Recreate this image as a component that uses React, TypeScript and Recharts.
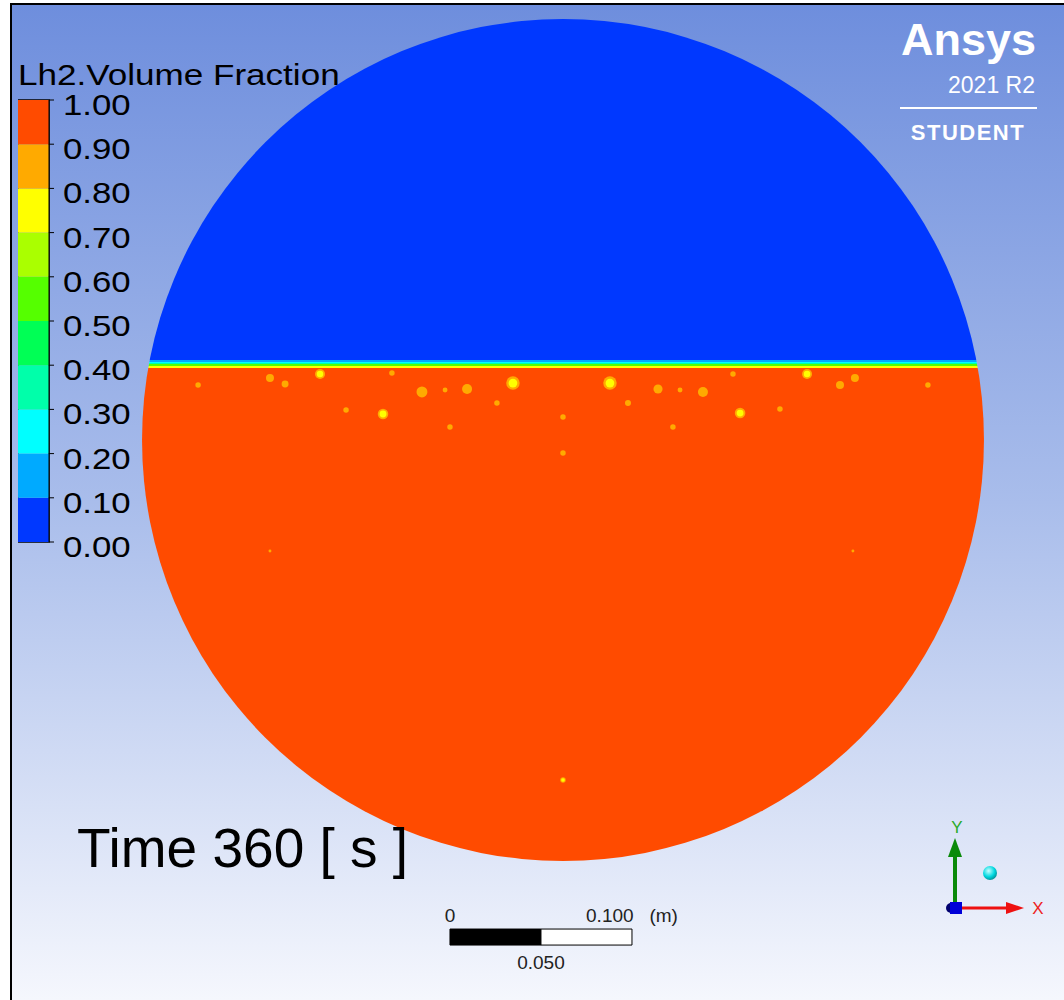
import React from 'react';
import { ComposedChart, Scatter, XAxis, YAxis, ReferenceArea, BarChart, Bar } from 'recharts';

// contour levels of the volume fraction and the colour of each band
const LEVELS = [0, 0.1, 0.2, 0.3, 0.4, 0.5, 0.6, 0.7, 0.8, 0.9, 1.0];
const BAND_COLORS = ['#0038FF', '#00AAFF', '#00FFFF', '#00FFAA', '#00FF55', '#55FF00', '#AAFF00', '#FFFF00', '#FFAA00', '#FF4B00'];

// tank cross-section, metres
const TANK_CENTER = [{ x: 0, y: 0 }];
const TANK_RADIUS = 0.2313;

// mixed layer between vapour and liquid: top of each band (m) and its fraction
const INTERFACE_LAYERS = [
    { top: 0.0440, frac: 0.15 },
    { top: 0.0431, frac: 0.25 },
    { top: 0.0421, frac: 0.35 },
    { top: 0.0415, frac: 0.55 },
    { top: 0.0404, frac: 0.75 },
];
const LIQUID_LEVEL = 0.0393;

// vapour pockets in the liquid: centre (m), diameter (mm), fraction at the core
const BUBBLES = [
    { x: -0.2005, y: 0.0302, d: 3.0, core: 0.85 },
    { x: -0.1610, y: 0.0341, d: 4.4, core: 0.85 },
    { x: -0.1527, y: 0.0308, d: 3.8, core: 0.85 },
    { x: -0.1335, y: 0.0363, d: 5.5, core: 0.75 },
    { x: -0.1192, y: 0.0165, d: 3.0, core: 0.85 },
    { x: -0.0989, y: 0.0143, d: 5.8, core: 0.75 },
    { x: -0.0940, y: 0.0368, d: 3.0, core: 0.85 },
    { x: -0.0775, y: 0.0264, d: 6.0, core: 0.85 },
    { x: -0.0648, y: 0.0275, d: 2.7, core: 0.85 },
    { x: -0.0527, y: 0.0280, d: 5.5, core: 0.85 },
    { x: -0.0363, y: 0.0203, d: 3.0, core: 0.85 },
    { x: -0.0275, y: 0.0313, d: 7.4, core: 0.75 },
    { x: -0.0621, y: 0.0071, d: 3.0, core: 0.85 },
    { x: 0.0000, y: 0.0126, d: 3.0, core: 0.85 },
    { x: 0.0000, y: -0.0071, d: 3.0, core: 0.85 },
    { x: 0.0258, y: 0.0313, d: 7.4, core: 0.75 },
    { x: 0.0357, y: 0.0203, d: 3.3, core: 0.85 },
    { x: 0.0522, y: 0.0280, d: 5.0, core: 0.85 },
    { x: 0.0643, y: 0.0275, d: 2.7, core: 0.85 },
    { x: 0.0769, y: 0.0264, d: 5.5, core: 0.85 },
    { x: 0.0604, y: 0.0071, d: 3.0, core: 0.85 },
    { x: 0.0973, y: 0.0148, d: 5.8, core: 0.75 },
    { x: 0.1192, y: 0.0170, d: 3.0, core: 0.85 },
    { x: 0.0934, y: 0.0363, d: 3.0, core: 0.85 },
    { x: 0.1341, y: 0.0363, d: 5.5, core: 0.75 },
    { x: 0.1522, y: 0.0302, d: 4.4, core: 0.85 },
    { x: 0.1604, y: 0.0341, d: 4.4, core: 0.85 },
    { x: 0.2005, y: 0.0302, d: 3.0, core: 0.85 },
    { x: 0.0000, y: -0.1868, d: 3.0, core: 0.75 },
    { x: -0.1610, y: -0.0610, d: 1.6, core: 0.85 },
    { x: 0.1593, y: -0.0610, d: 1.6, core: 0.85 },
];

// length scale bar, metres
const SCALE_X0 = -0.0621;
const SCALE_TOP = -0.2687;
const SCALE_BOTTOM = -0.2775;
const SCALE_TICKS = [
    { v: 0, label: '0', below: false },
    { v: 0.05, label: '0.050', below: true },
    { v: 0.1, label: '0.100\u00a0\u00a0\u00a0(m)', below: false },
];

const TIME_LABEL = 'Time 360 [ s ]';
const LEGEND_TITLE = 'Lh2.Volume Fraction';

// view: 1 m = 1820 px, tank centre at (563, 440)
const W = 1064;
const H = 1000;
const PX_PER_M = 1820;
const X_DOMAIN = [-563 / PX_PER_M, (W - 563) / PX_PER_M];
const Y_DOMAIN = [-(H - 440) / PX_PER_M, 440 / PX_PER_M];
const FONT = '"Liberation Sans", Arial, sans-serif';

const bandColor = (f: number) => BAND_COLORS[Math.max(0, Math.min(9, Math.floor(f * 10)))];

const legendRow = LEVELS.slice(1).reduce(
    (row: Record<string, number | string>, v, i) => ({ ...row, [`b${i}`]: v - LEVELS[i] }),
    { name: 'vf' }
);

const TankShape = (props: any) => {
    const { cx, cy } = props;
    const r = TANK_RADIUS * PX_PER_M;
    const py = (m: number) => cy - m * PX_PER_M;
    const vapourBottom = py(INTERFACE_LAYERS[0].top);
    return (
        <g>
            <defs>
                <clipPath id="tank-clip">
                    <circle cx={cx} cy={cy} r={r} />
                </clipPath>
            </defs>
            <g clipPath="url(#tank-clip)" shapeRendering="crispEdges">
                <rect x={cx - r} y={cy - r} width={2 * r} height={vapourBottom - (cy - r)} fill={bandColor(0)} />
                {INTERFACE_LAYERS.map((l, i) => {
                    const bottom = i < INTERFACE_LAYERS.length - 1 ? INTERFACE_LAYERS[i + 1].top : LIQUID_LEVEL;
                    return (
                        <rect key={i} x={cx - r} y={py(l.top)} width={2 * r} height={py(bottom) - py(l.top)} fill={bandColor(l.frac)} />
                    );
                })}
                <rect x={cx - r} y={py(LIQUID_LEVEL)} width={2 * r} height={cy + r - py(LIQUID_LEVEL)} fill={bandColor(0.95)} />
            </g>
        </g>
    );
};

const BubbleShape = (props: any) => {
    const { cx, cy, payload } = props;
    const r = ((payload.d / 1000) * PX_PER_M) / 2;
    return (
        <g>
            <circle cx={cx} cy={cy} r={r} fill={bandColor(0.85)} />
            {payload.core < 0.8 && <circle cx={cx} cy={cy} r={r * 0.65} fill={bandColor(payload.core)} />}
        </g>
    );
};

const ScaleLabel = (props: any) => {
    const { cx, cy, payload } = props;
    return (
        <text x={cx} y={payload.below ? cy + 40 : cy - 7} textAnchor="middle" fontSize={19} fontFamily={FONT} fill="#222">
            {payload.label}
        </text>
    );
};

const LegendTick = (props: any) => {
    const { x, y, payload } = props;
    return (
        <text transform={`translate(${x},${y + 15}) scale(1.16,1)`} fontSize={30} fontFamily={FONT} fill="#000">
            {Number(payload.value).toFixed(2)}
        </text>
    );
};

function ColourBar() {
    return (
        <div style={{ position: 'absolute', left: 18, top: 80 }}>
            <BarChart width={131} height={482} data={[legendRow]} margin={{ top: 20, right: 0, bottom: 20, left: 0 }} barCategoryGap={0} barGap={0}>
                <XAxis dataKey="name" hide />
                <YAxis
                    orientation="right"
                    type="number"
                    domain={[0, 1]}
                    ticks={LEVELS}
                    width={100}
                    tickSize={5}
                    tickMargin={9}
                    tick={LegendTick}
                    tickLine={{ stroke: '#000' }}
                    axisLine={{ stroke: '#000' }}
                    allowDataOverflow
                />
                {BAND_COLORS.map((c, i) => (
                    <Bar key={i} dataKey={`b${i}`} stackId="vf" fill={c} isAnimationActive={false} />
                ))}
                <ReferenceArea y1={0} y2={1} fill="none" stroke="#000" strokeWidth={1.5} />
            </BarChart>
        </div>
    );
}

function Overlay() {
    return (
        <svg width={W} height={H} style={{ position: 'absolute', left: 0, top: 0, pointerEvents: 'none' }} fontFamily={FONT}>
            <defs>
                <radialGradient id="sphere" cx="40%" cy="35%" r="70%">
                    <stop offset="0%" stopColor="#c8ffff" />
                    <stop offset="60%" stopColor="#00d8e0" />
                    <stop offset="100%" stopColor="#008a90" />
                </radialGradient>
            </defs>
            <text transform="translate(18,85) scale(1.21,1)" fontSize={29} fill="#000">
                {LEGEND_TITLE}
            </text>

            <text x={77} y={867} fontSize={55} fill="#000">{TIME_LABEL}</text>

            {/* product badge */}
            <text x={1036} y={55} textAnchor="end" fontSize={45} fontWeight="bold" fill="#fff">Ansys</text>
            <text x={1035} y={93} textAnchor="end" fontSize={23} fill="#fff">2021 R2</text>
            <line x1={900} x2={1037} y1={108} y2={108} stroke="#fff" strokeWidth={2} />
            <text x={968} y={140} textAnchor="middle" fontSize={22} fontWeight="bold" letterSpacing={1.5} fill="#fff">STUDENT</text>

            {/* axis triad */}
            <line x1={955} y1={908} x2={955} y2={852} stroke="#0a8a0a" strokeWidth={4} />
            <polygon points="955,838 948,857 962,857" fill="#0a8a0a" />
            <text x={957} y={833} fontSize={17} fill="#2aaa2a" textAnchor="middle">Y</text>
            <line x1={955} y1={908} x2={1010} y2={908} stroke="#ee1111" strokeWidth={3} />
            <polygon points="1024,908 1006,902 1006,914" fill="#ee1111" />
            <text x={1038} y={914} fontSize={17} fill="#ee2222" textAnchor="middle">X</text>
            <circle cx={951} cy={908} r={5} fill="#000070" />
            <rect x={950} y={902} width={12} height={12} fill="#0000d8" />
            <circle cx={990} cy={873} r={7} fill="url(#sphere)" />
        </svg>
    );
}

export default function App() {
    return (
        <div style={{ position: 'absolute', left: 0, top: 0, width: W, height: H, background: '#fff', overflow: 'hidden' }}>
            <div
                style={{
                    position: 'absolute',
                    left: 10,
                    top: 3,
                    width: W - 12,
                    height: H - 5,
                    borderLeft: '2px solid #000',
                    borderTop: '2px solid #000',
                    background: 'linear-gradient(to bottom, #6E8EDD 0%, #A9BDEB 50%, #F5F7FD 100%)',
                }}
            />
            <div style={{ position: 'absolute', left: 0, top: 0 }}>
                <ComposedChart width={W} height={H} margin={{ top: 0, right: 0, bottom: 0, left: 0 }}>
                    <XAxis type="number" dataKey="x" domain={X_DOMAIN} allowDataOverflow hide />
                    <YAxis type="number" dataKey="y" domain={Y_DOMAIN} allowDataOverflow hide />
                    <Scatter data={TANK_CENTER} shape={TankShape} isAnimationActive={false} />
                    <Scatter data={BUBBLES} shape={BubbleShape} isAnimationActive={false} />
                    <ReferenceArea x1={SCALE_X0} x2={SCALE_X0 + 0.05} y1={SCALE_BOTTOM} y2={SCALE_TOP} fill="#000" fillOpacity={1} stroke="#000" />
                    <ReferenceArea x1={SCALE_X0 + 0.05} x2={SCALE_X0 + 0.1} y1={SCALE_BOTTOM} y2={SCALE_TOP} fill="#fff" fillOpacity={1} stroke="#000" />
                    <Scatter
                        data={SCALE_TICKS.map((t) => ({ x: SCALE_X0 + t.v, y: SCALE_TOP, label: t.label, below: t.below }))}
                        shape={ScaleLabel}
                        isAnimationActive={false}
                    />
                </ComposedChart>
            </div>
            <ColourBar />
            <Overlay />
        </div>
    );
}
